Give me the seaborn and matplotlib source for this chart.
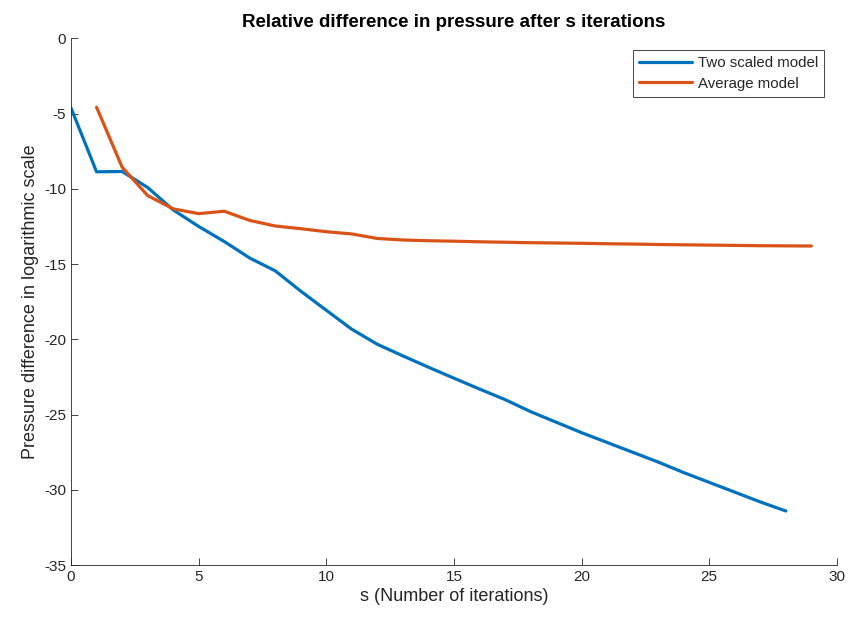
import numpy as np
import pandas as pd
import matplotlib
matplotlib.use("Agg")
import matplotlib.pyplot as plt
import seaborn as sns

# values
two_x = list(range(0, 29))
two_y = [-4.63, -8.87, -8.85, -9.91, -11.4, -12.5, -13.5, -14.6, -15.45, -16.8,
         -18.07, -19.33, -20.33, -21.1, -21.85, -22.58, -23.3, -24.0, -24.8, -25.5,
         -26.2, -26.85, -27.5, -28.15, -28.85, -29.5, -30.15, -30.8, -31.4]
avg_x = list(range(1, 30))
avg_y = [-4.58, -8.56, -10.45, -11.33, -11.65, -11.49, -12.1, -12.47, -12.65, -12.85,
         -13.0, -13.3, -13.4, -13.45, -13.48, -13.52, -13.55, -13.58, -13.6, -13.62,
         -13.65, -13.67, -13.7, -13.72, -13.74, -13.76, -13.78, -13.79, -13.8]

df = pd.concat([
    pd.DataFrame({"s": two_x, "val": two_y, "model": "Two scaled model"}),
    pd.DataFrame({"s": avg_x, "val": avg_y, "model": "Average model"}),
])

sns.set_style("ticks")
plt.rcParams['font.family'] = ['Liberation Sans', 'DejaVu Sans']
plt.rcParams['axes.unicode_minus'] = False
plt.rcParams['xtick.direction'] = 'in'
plt.rcParams['ytick.direction'] = 'in'

fig = plt.figure(figsize=(8.61, 6.17), dpi=100)
ax = fig.add_axes([0.0825, 0.084, 0.8895, 0.854])

sns.lineplot(data=df, x="s", y="val", hue="model", ax=ax,
             palette=["#0072BD", "#D95319"], linewidth=2.3)

ax.set_xlim(0, 30)
ax.set_ylim(-35, 0)
ax.set_xticks(range(0, 31, 5))
ax.set_yticks(range(-35, 1, 5))
ax.tick_params(direction="in", length=5, labelsize=11, colors="#262626", width=0.6)
for sp in ["top", "right"]:
    ax.spines[sp].set_visible(False)
for sp in ["left", "bottom"]:
    ax.spines[sp].set_linewidth(0.6)
    ax.spines[sp].set_color("#262626")

ax.set_xlabel("s (Number of iterations)", fontsize=13, color="#262626", labelpad=3)
ax.set_ylabel("Pressure difference in logarithmic scale", fontsize=13, color="#262626", labelpad=4)
ax.set_title("Relative difference in pressure after s iterations",
             fontsize=13.5, fontweight="bold", pad=8, color="black")

leg = ax.legend(loc="upper right", bbox_to_anchor=(0.983, 0.977), borderaxespad=0,
                fontsize=10.8, handlelength=3.5, fancybox=False, framealpha=1,
                edgecolor="#262626", borderpad=0.4, labelspacing=0.42, handletextpad=0.4)
leg.get_frame().set_linewidth(0.6)

fig.savefig("out.png", dpi=100)
